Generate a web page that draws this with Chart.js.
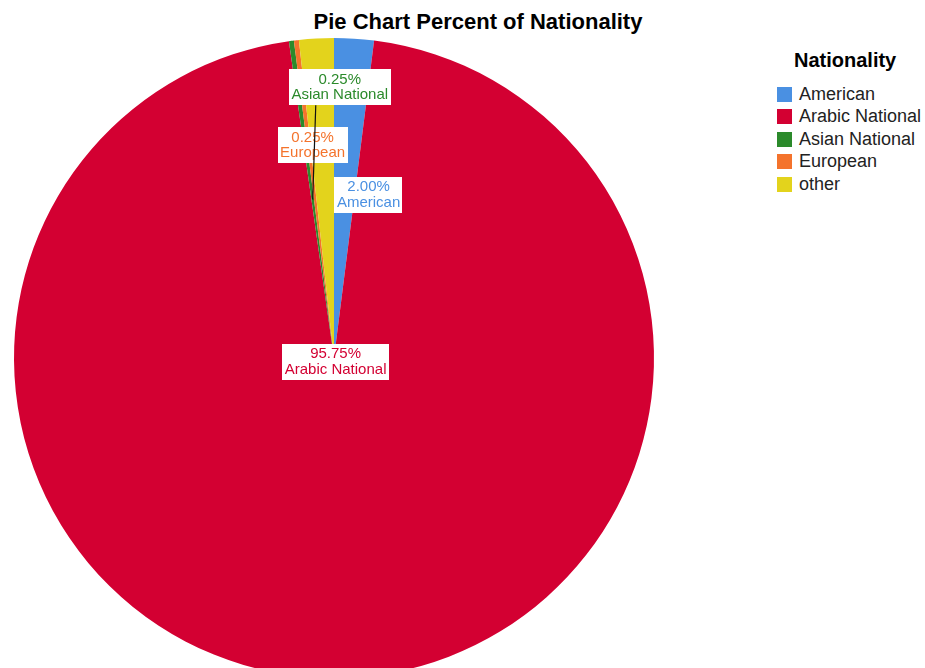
<!DOCTYPE html>
<html>
<head>
<meta charset="utf-8">
<title>Pie Chart Percent of Nationality</title>
<script src="https://cdn.jsdelivr.net/npm/chart.js@4.4.1/dist/chart.umd.min.js"></script>
<style>
  html, body {
    margin: 0;
    padding: 0;
    width: 925px;
    height: 668px;
    overflow: hidden;
    background: #ffffff;
  }
  body {
    position: relative;
    font-family: "Liberation Sans", Arial, sans-serif;
  }
  #pieCanvas {
    position: absolute;
    left: 0;
    top: 0;
  }
  .chart-title {
    position: absolute;
    left: 278px;
    width: 400px;
    top: 9px;
    text-align: center;
    font-size: 22px;
    font-weight: bold;
    color: #000;
  }
  .legend {
    position: absolute;
    left: 777px;
    top: 49px;
  }
  .legend-title {
    font-size: 20px;
    line-height: 23px;
    font-weight: bold;
    color: #000;
    margin-left: 17px;
    margin-bottom: 11px;
  }
  .legend-item {
    display: flex;
    align-items: center;
    height: 22.5px;
    font-size: 18px;
    color: #222;
  }
  .legend-swatch {
    width: 15px;
    height: 15px;
    margin-right: 7px;
  }
</style>
</head>
<body>

<div class="chart-title">Pie Chart Percent of Nationality</div>
<div class="legend">
  <div class="legend-title">Nationality</div>
  <div id="legendList"></div>
</div>
<canvas id="pieCanvas" width="925" height="700"></canvas>

<script>
// ============================================================
// DATA
// ============================================================

const categories  = ["American", "Arabic National", "Asian National", "European", "other"];
const percents    = [2.00, 95.75, 0.25, 0.25, 1.75];
const sliceColors = ["#4a90e2", "#d30032", "#2b8a2b", "#f4732c", "#e3d31c"];

// where each value box sits, as a share of the radius from the centre (null = no box)
const labelSpots = [
  [0.108, -0.510],
  [0.005,  0.012],
  [0.018, -0.846],
  [-0.067, -0.666],
  null
];


// ============================================================
// LEGEND
// ============================================================

document.getElementById("legendList").innerHTML = categories.map((c, i) => `
  <div class="legend-item">
    <div class="legend-swatch" style="background:${sliceColors[i]}"></div>
    <span>${c}</span>
  </div>
`).join("");


// ============================================================
// VALUE BOXES PLUGIN
// ============================================================

const valueBoxes = {
  id: "valueBoxes",
  afterDatasetsDraw(chart) {
    const ctx  = chart.ctx;
    const arcs = chart.getDatasetMeta(0).data;
    const boxH = 36;

    ctx.save();
    ctx.font = "15px 'Liberation Sans', Arial, sans-serif";
    ctx.textAlign = "center";
    ctx.textBaseline = "middle";

    const boxes = labelSpots.map((spot, i) => {
      if (!spot) return null;
      const a     = arcs[i];
      const line1 = percents[i].toFixed(2) + "%";
      const line2 = categories[i];
      const w     = Math.max(ctx.measureText(line1).width, ctx.measureText(line2).width) + 5;
      return {
        cx: a.x + spot[0] * a.outerRadius,
        cy: a.y + spot[1] * a.outerRadius,
        w, line1, line2, color: sliceColors[i]
      };
    });

    boxes.forEach(b => {
      if (!b) return;
      ctx.fillStyle = "#ffffff";
      ctx.fillRect(Math.round(b.cx - b.w / 2), Math.round(b.cy - boxH / 2), Math.round(b.w), boxH);
      ctx.fillStyle = b.color;
      ctx.fillText(b.line1, b.cx, b.cy - 7.5);
      ctx.fillText(b.line2, b.cx, b.cy + 8);
    });

    // leader line from the Asian National box down onto its thin slice
    const asian = boxes[2];
    const arc   = arcs[2];
    const mid   = (arc.startAngle + arc.endAngle) / 2;
    ctx.strokeStyle = "#111111";
    ctx.lineWidth = 1.2;
    ctx.beginPath();
    ctx.moveTo(asian.cx - 24, asian.cy + boxH / 2);
    ctx.lineTo(arc.x + Math.cos(mid) * arc.outerRadius * 0.5, arc.y + Math.sin(mid) * arc.outerRadius * 0.5);
    ctx.stroke();

    ctx.restore();
  }
};


// ============================================================
// CHART
// ============================================================

new Chart(document.getElementById("pieCanvas").getContext("2d"), {
  type: "pie",
  data: {
    labels: categories,
    datasets: [{
      data:            percents,
      backgroundColor: sliceColors,
      borderWidth:     0,
      hoverOffset:     0,
      offset:          0
    }]
  },
  options: {
    responsive: false,
    animation:  false,
    layout: {
      padding: { left: 14, top: 38, right: 271, bottom: 22 }
    },
    plugins: {
      legend:  { display: false },
      tooltip: { enabled: false }
    }
  },
  plugins: [valueBoxes]
});
</script>
</body>
</html>
